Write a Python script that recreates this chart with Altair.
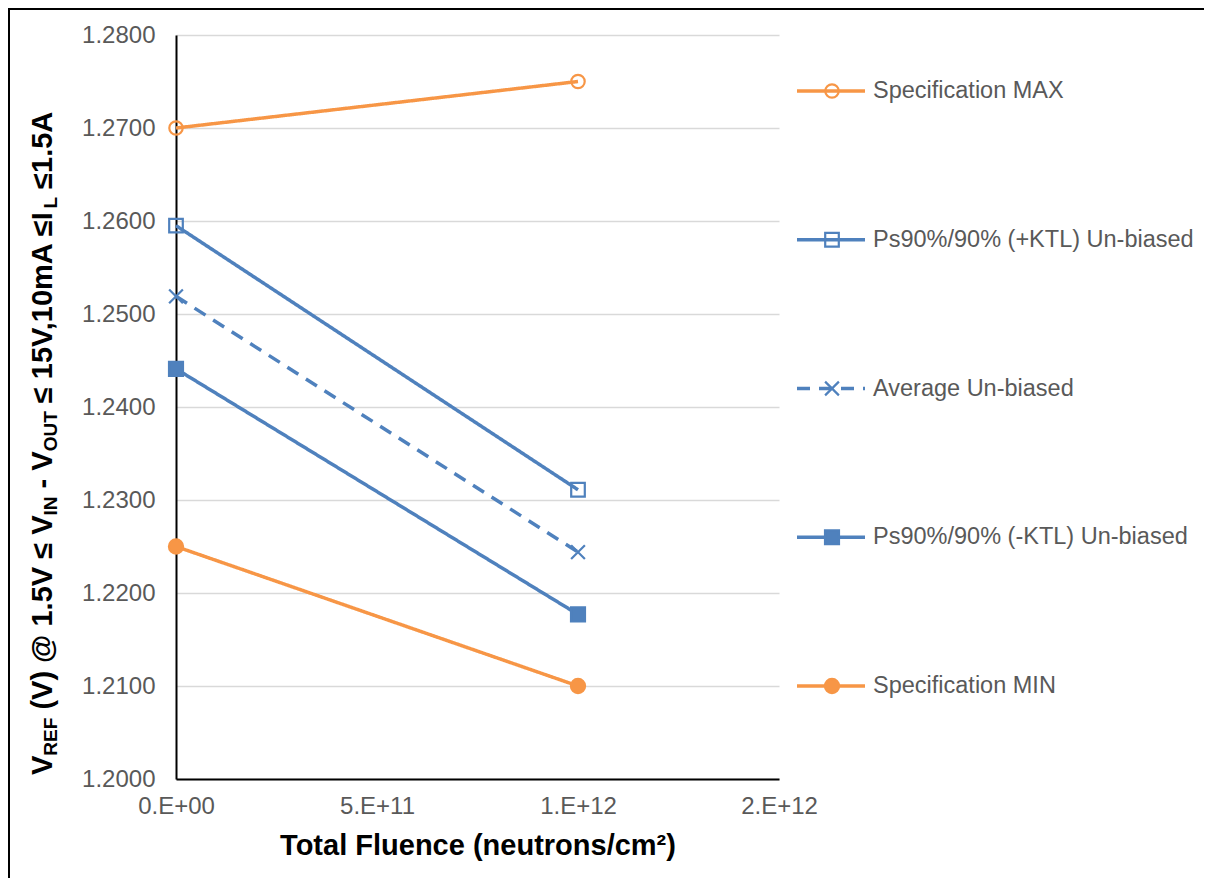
import altair as alt
import pandas as pd

# ---------------- data ----------------
series = [
    "Specification MAX",
    "Ps90%/90% (+KTL) Un-biased",
    "Average Un-biased",
    "Ps90%/90% (-KTL) Un-biased",
    "Specification MIN",
]
fluence = [0, 1e12]
spec_max = [1.2700, 1.2750]
ktl_plus = [1.2595, 1.2311]
average = [1.2519, 1.2244]
ktl_minus = [1.2441, 1.2177]
spec_min = [1.2250, 1.2100]

y_ticks = [1.20, 1.21, 1.22, 1.23, 1.24, 1.25, 1.26, 1.27, 1.28]
x_ticks = [0, 5e11, 1e12, 1.5e12]
x_tick_labels = ["0.E+00", "5.E+11", "1.E+12", "2.E+12"]

ORANGE = "#F79646"
BLUE = "#4F81BD"
colors = [ORANGE, BLUE, BLUE, BLUE, ORANGE]
shapes = ["circle", "square", "M-1,-1L1,1M-1,1L1,-1", "square", "circle"]
fills = ["transparent", "transparent", "transparent", BLUE, ORANGE]
sizes = [180, 200, 340, 400, 190]
dashes = [[1, 0], [1, 0], [13, 9], [1, 0], [1, 0]]

rows = []
for name, vals in zip(series, [spec_max, ktl_plus, average, ktl_minus, spec_min]):
    for f, v in zip(fluence, vals):
        rows.append({"series": name, "fluence": f, "value": v})
df = pd.DataFrame(rows)
legend_df = pd.DataFrame({"series": series})

W, H = 603, 744
FONT = "Liberation Sans"

stroke_enc = alt.Stroke("series:N", scale=alt.Scale(domain=series, range=colors), legend=None)
dash_enc = alt.StrokeDash("series:N", scale=alt.Scale(domain=series, range=dashes), legend=None)
fill_enc = alt.Fill("series:N", scale=alt.Scale(domain=series, range=fills), legend=None)
shape_enc = alt.Shape("series:N", scale=alt.Scale(domain=series, range=shapes), legend=None)
size_enc = alt.Size("series:N", scale=alt.Scale(domain=series, range=sizes), legend=None)

label_expr = " : ".join(
    f"datum.value == {v} ? '{l}'" for v, l in zip(x_ticks[:-1], x_tick_labels[:-1])
) + f" : '{x_tick_labels[-1]}'"

x_enc = alt.X(
    "fluence:Q",
    scale=alt.Scale(domain=[0, 1.5e12], nice=False),
    axis=alt.Axis(
        values=x_ticks, labelExpr=label_expr, grid=False, ticks=False,
        domainColor="black", domainWidth=2, labelFontSize=24, labelColor="#595959",
        labelFont=FONT, labelPadding=15, labelFlush=False, labelOverlap=False,
        title="Total Fluence (neutrons/cm²)", titleFont=FONT, titleFontSize=29,
        titleFontWeight="bold", titleColor="black", titlePadding=13,
    ),
)
y_scale = alt.Scale(domain=[1.20, 1.28], nice=False, zero=False)
y_axis = alt.Axis(
    values=y_ticks, format=".4f", labelFontSize=24, labelColor="#595959", labelFont=FONT,
    ticks=False, labelPadding=21, domainColor="black", domainWidth=2,
    gridColor="#d9d9d9", gridWidth=1.5, title=None,
)

lines = alt.Chart(df).mark_line(strokeWidth=3.5).encode(
    x=x_enc,
    y=alt.Y("value:Q", scale=y_scale, axis=y_axis),
    stroke=stroke_enc, strokeDash=dash_enc, detail="series:N",
)
points = alt.Chart(df).mark_point(strokeWidth=2.2, opacity=1).encode(
    x=x_enc,
    y=alt.Y("value:Q", scale=y_scale, axis=None),
    stroke=stroke_enc, fill=fill_enc, shape=shape_enc, size=size_enc,
)

# ---------------- legend ----------------
y_leg = alt.Y("series:N", sort=series, axis=None,
              scale=alt.Scale(type="point", range=[56, 651], padding=0))
leg_rule = alt.Chart(legend_df).mark_rule(strokeWidth=3.5).encode(
    x=alt.value(621), x2=alt.value(689), y=y_leg, stroke=stroke_enc, strokeDash=dash_enc,
)
leg_pt = alt.Chart(legend_df).mark_point(strokeWidth=2.2, opacity=1).encode(
    x=alt.value(656), y=y_leg, stroke=stroke_enc, fill=fill_enc, shape=shape_enc, size=size_enc,
)
leg_txt = alt.Chart(legend_df).mark_text(
    align="left", baseline="middle", fontSize=23.5, font=FONT, color="#595959"
).encode(x=alt.value(697), y=y_leg, text="series:N")

# ---------------- y title with subscripts ----------------
HB = {" ": 278, "(": 333, ")": 333, "@": 975, ".": 278, ",": 278, "-": 333,
      "≤": 549, "A": 722, "E": 667, "F": 611, "I": 278, "L": 611, "N": 722,
      "O": 778, "R": 722, "T": 611, "U": 722, "V": 667, "m": 889}
for d in "0123456789":
    HB[d] = 556

def tw(s, size):
    return sum(HB.get(c, 556) for c in s) * size / 1000.0

title_pieces = [("V", False), ("REF", True), (" (V) @ 1.5V ≤ V", False), ("IN", True),
                (" - V", False), ("OUT", True), (" ≤ 15V,10mA ≤I", False), ("L", True),
                (" ≤1.5A", False)]
MAIN, SUB = 29, 19
base_x = -124
cur_y = 740
title_layers = []
one = pd.DataFrame({"a": [0]})
for txt, sub in title_pieces:
    fs = SUB if sub else MAIN
    lead = len(txt) - len(txt.lstrip(" "))
    cur_y -= tw(" " * lead, fs)
    body = txt.lstrip(" ")
    title_layers.append(
        alt.Chart(one).mark_text(
            angle=270, align="left", baseline="alphabetic", fontSize=fs,
            fontWeight="bold", font=FONT, color="black",
        ).encode(x=alt.value(base_x + (5 if sub else 0)), y=alt.value(cur_y), text=alt.value(body))
    )
    cur_y -= tw(body, fs)

# ---------------- outer frame ----------------
frame_left = alt.Chart(one).mark_rule(color="black", strokeWidth=2).encode(
    x=alt.value(-167), y=alt.value(-27), y2=alt.value(843))
frame_top = alt.Chart(one).mark_rule(color="black", strokeWidth=2).encode(
    x=alt.value(-168), x2=alt.value(1028), y=alt.value(-26))

chart = alt.layer(
    lines, points, leg_rule, leg_pt, leg_txt, *title_layers, frame_left, frame_top
).resolve_scale(y="independent").properties(
    width=W, height=H,
    autosize=alt.AutoSizeParams(type="none"),
    padding={"left": 168, "top": 27, "right": 425, "bottom": 99},
).configure_view(stroke=None)

chart.save("out.html", embed_options={"renderer": "svg", "actions": False})
